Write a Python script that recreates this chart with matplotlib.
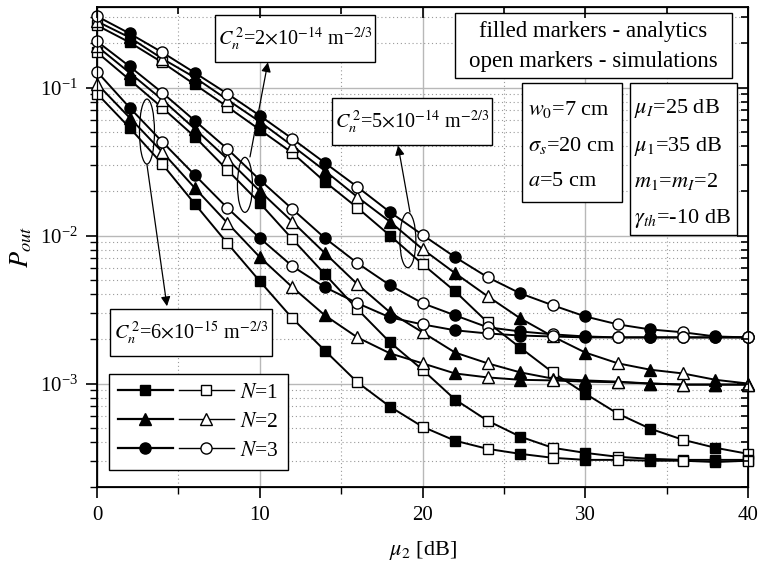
import numpy as np
import matplotlib
matplotlib.use('Agg')
import matplotlib.pyplot as plt
from matplotlib.lines import Line2D
from matplotlib.patches import Ellipse, Rectangle
from matplotlib.legend_handler import HandlerTuple
from matplotlib.ticker import LogLocator, MultipleLocator, NullFormatter

plt.rcParams['font.family'] = ['Liberation Serif', 'DejaVu Serif']
plt.rcParams['mathtext.fontset'] = 'stix'

mu2 = np.arange(0, 41, 2)

# Cn^2 = 5e-14 (top group)
p_5e14_n1 = [0.263, 0.202, 0.148, 0.105, 0.0743, 0.0519, 0.0362, 0.0231, 0.0154, 0.0100, 0.00641,
             0.00420, 0.00259, 0.00175, 0.00119, 0.000855, 0.000626, 0.000495, 0.000417, 0.000368, 0.000335]
p_5e14_n2 = [0.280, 0.218, 0.157, 0.117, 0.0829, 0.0588, 0.0404, 0.0274, 0.0182, 0.0124, 0.00810,
             0.00557, 0.00389, 0.00276, 0.00208, 0.00162, 0.00137, 0.00124, 0.00117, 0.00106, 0.00100]
p_5e14_n3 = [0.303, 0.232, 0.173, 0.126, 0.0910, 0.0646, 0.0451, 0.0310, 0.0213, 0.0144, 0.0101,
             0.00715, 0.00523, 0.00407, 0.00338, 0.00284, 0.00251, 0.00232, 0.00222, 0.00208, 0.00205]

# Cn^2 = 2e-14 (middle group)
p_2e14_n1 = [0.173, 0.113, 0.0732, 0.0466, 0.0278, 0.0166, 0.00947, 0.00548, 0.00318, 0.00190, 0.00124,
             0.000780, 0.000561, 0.000438, 0.000368, 0.000340, 0.000320, 0.000310, 0.000305, 0.000305, 0.000305]
p_2e14_n2 = [0.190, 0.126, 0.0829, 0.0527, 0.0330, 0.0200, 0.0124, 0.00761, 0.00469, 0.00303, 0.00222,
             0.00162, 0.00137, 0.00119, 0.00108, 0.00105, 0.00103, 0.00100, 0.000984, 0.000984, 0.000984]
p_2e14_n3 = [0.205, 0.139, 0.0925, 0.0598, 0.0386, 0.0238, 0.0151, 0.00962, 0.00651, 0.00462, 0.00349,
             0.00289, 0.00240, 0.00225, 0.00215, 0.00208, 0.00205, 0.00205, 0.00205, 0.00205, 0.00205]

# Cn^2 = 6e-15 (bottom group)
p_6e15_n1 = [0.0910, 0.0536, 0.0305, 0.0164, 0.00890, 0.00492, 0.00276, 0.00167, 0.00102, 0.000698, 0.000511,
             0.000411, 0.000362, 0.000335, 0.000315, 0.000305, 0.000305, 0.000301, 0.000301, 0.000295, 0.000301]
p_6e15_n2 = [0.106, 0.0626, 0.0368, 0.0210, 0.0122, 0.00715, 0.00448, 0.00289, 0.00205, 0.00160, 0.00137,
             0.00117, 0.00110, 0.00106, 0.00105, 0.00103, 0.00102, 0.00100, 0.000984, 0.000984, 0.000984]
p_6e15_n3 = [0.128, 0.0732, 0.0431, 0.0257, 0.0154, 0.00962, 0.00621, 0.00448, 0.00349, 0.00280, 0.00251,
             0.00229, 0.00218, 0.00211, 0.00208, 0.00205, 0.00205, 0.00205, 0.00205, 0.00205, 0.00205]

markers = {1: ('s', 7), 2: ('^', 8.5), 3: ('o', 8)}
curves = [
    (p_5e14_n1, 1), (p_5e14_n2, 2), (p_5e14_n3, 3),
    (p_2e14_n1, 1), (p_2e14_n2, 2), (p_2e14_n3, 3),
    (p_6e15_n1, 1), (p_6e15_n2, 2), (p_6e15_n3, 3),
]

W, H = 759, 566
fig = plt.figure(figsize=(W / 100, H / 100), dpi=100)
ax = fig.add_axes([97 / W, 79 / H, 651 / W, 480 / H])


def frac(x, y):
    # pixel position in the figure -> axes fraction
    return (x - 97) / 651, (487 - y) / 480


for vals, n in curves:
    m, ms = markers[n]
    ax.plot(mu2, vals, '-', color='k', lw=1.4, marker=m, ms=ms, mfc='k', mec='k',
            markevery=slice(1, None, 2), zorder=3)
    ax.plot(mu2, vals, 'none', marker=m, ms=ms, mfc='white', mec='k', mew=1.0,
            markevery=slice(0, None, 2), zorder=4, clip_on=False)

ax.set_yscale('log')
ax.set_xlim(0, 40)
ax.set_ylim(2e-4, 0.35)
ax.xaxis.set_major_locator(MultipleLocator(10))
ax.xaxis.set_minor_locator(MultipleLocator(5))
ax.yaxis.set_major_locator(LogLocator(base=10, numticks=10))
ax.yaxis.set_minor_locator(LogLocator(base=10, subs=np.arange(2, 10), numticks=20))
ax.yaxis.set_minor_formatter(NullFormatter())

ax.grid(which='major', color='#b8b8b8', lw=1.0, ls='-', zorder=0)
ax.grid(which='minor', color='#9a9a9a', lw=0.8, ls=(0, (1, 2.5)), zorder=0)
ax.set_axisbelow(True)

ax.tick_params(which='major', direction='out', length=8, width=1.2, labelsize=15, pad=6)
ax.tick_params(which='minor', direction='out', length=5, width=1.0)
for s in ax.spines.values():
    s.set_linewidth(1.3)

# inward ticks on top and right
axt = ax.twiny()
axt.set_xlim(ax.get_xlim())
axt.xaxis.set_major_locator(MultipleLocator(10))
axt.xaxis.set_minor_locator(MultipleLocator(5))
axt.tick_params(which='both', direction='in', labeltop=False, width=1.2)
axt.tick_params(which='major', length=8)
axt.tick_params(which='minor', length=5)
axr = ax.twinx()
axr.set_yscale('log')
axr.set_ylim(ax.get_ylim())
axr.yaxis.set_major_locator(LogLocator(base=10, numticks=10))
axr.yaxis.set_minor_locator(LogLocator(base=10, subs=np.arange(2, 10), numticks=20))
axr.tick_params(which='both', direction='in', labelright=False, width=1.2)
axr.tick_params(which='major', length=8)
axr.tick_params(which='minor', length=5)

ax.set_xlabel(r'$\mu_2$ [dB]', fontsize=16, labelpad=10)
ax.set_ylabel(r'$P_{out}$', fontsize=19, labelpad=4)

# legend
handles = []
for n in (1, 2, 3):
    m, ms = markers[n]
    hf = Line2D([], [], color='k', lw=1.6, marker=m, ms=ms, mfc='k', mec='k')
    ho = Line2D([], [], color='k', lw=1.0, marker=m, ms=ms, mfc='white', mec='k')
    handles.append((hf, ho))
labels = [r'$N$=1', r'$N$=2', r'$N$=3']
leg = ax.legend(handles, labels, handler_map={tuple: HandlerTuple(ndivide=None, pad=0.3)},
                loc='upper left', bbox_to_anchor=frac(109, 374), borderaxespad=0,
                handlelength=5.4, handletextpad=0.3, labelspacing=0.42, borderpad=0.4,
                fontsize=15.5, fancybox=False, framealpha=1, edgecolor='k')
leg.get_frame().set_linewidth(1.0)
leg.set_zorder(6)


def box(x0, y0, x1, y1):
    a0 = frac(x0, y1)
    a1 = frac(x1, y0)
    ax.add_patch(Rectangle(a0, a1[0] - a0[0], a1[1] - a0[1], transform=ax.transAxes,
                           facecolor='white', edgecolor='k', lw=1.0, zorder=6))


def label(x, y, s, size=16, ha='left'):
    ax.text(*frac(x, y), s, transform=ax.transAxes, fontsize=size, ha=ha, va='center', zorder=7)


# info boxes
box(455, 13, 732, 78)
label(593, 32, 'filled markers - analytics', size=16.5, ha='center')
label(593, 62, 'open markers - simulations', size=16.5, ha='center')

box(522, 83, 622, 202)
label(528, 110, r'$w_0$=7 cm')
label(528, 146, r'$\sigma_s$=20 cm')
label(528, 182, r'$a$=5 cm')

box(630, 83, 737, 235)
label(634, 108, r'$\mu_I$=25 dB')
label(634, 146, r'$\mu_1$=35 dB')
label(634, 182, r'$m_1$=$m_I$=2')
label(634, 219, r'$\gamma_{th}$=-10 dB')

cn_boxes = [
    ((215, 15, 375, 62), r'$C_n^{\,2}$=2$\times$10$^{-14}$ m$^{-2/3}$'),
    ((332, 98, 492, 145), r'$C_n^{\,2}$=5$\times$10$^{-14}$ m$^{-2/3}$'),
    ((110, 309, 272, 356), r'$C_n^{\,2}$=6$\times$10$^{-15}$ m$^{-2/3}$'),
]
for (x0, y0, x1, y1), s in cn_boxes:
    box(x0, y0, x1, y1)
    label((x0 + x1) / 2, (y0 + y1) / 2 + 1, s, size=14.5, ha='center')

# ellipses around each turbulence group, with arrows to the labels
fig.canvas.draw()
ellipses = [((3.07, 0.0504), 15, 65), ((9.09, 0.0220), 15, 55), ((19.1, 0.0093), 16, 55)]
for (xc, yc), w, h in ellipses:
    c = ax.transAxes.inverted().transform(ax.transData.transform((xc, yc)))
    ax.add_patch(Ellipse(c, w / 651, h / 480, transform=ax.transAxes, fill=False,
                         edgecolor='k', lw=0.9, zorder=5))

arrows = [((3.07, 0.0301), (4.30, 0.00333)), ((9.40, 0.0340), (10.5, 0.148)),
          ((19.23, 0.0144), (18.5, 0.0405))]
for start, end in arrows:
    ax.annotate('', xy=end, xytext=start,
                arrowprops=dict(arrowstyle='-|>', color='k', lw=0.9, mutation_scale=14,
                                shrinkA=0, shrinkB=0), zorder=5)

fig.savefig('out.png', dpi=100)
